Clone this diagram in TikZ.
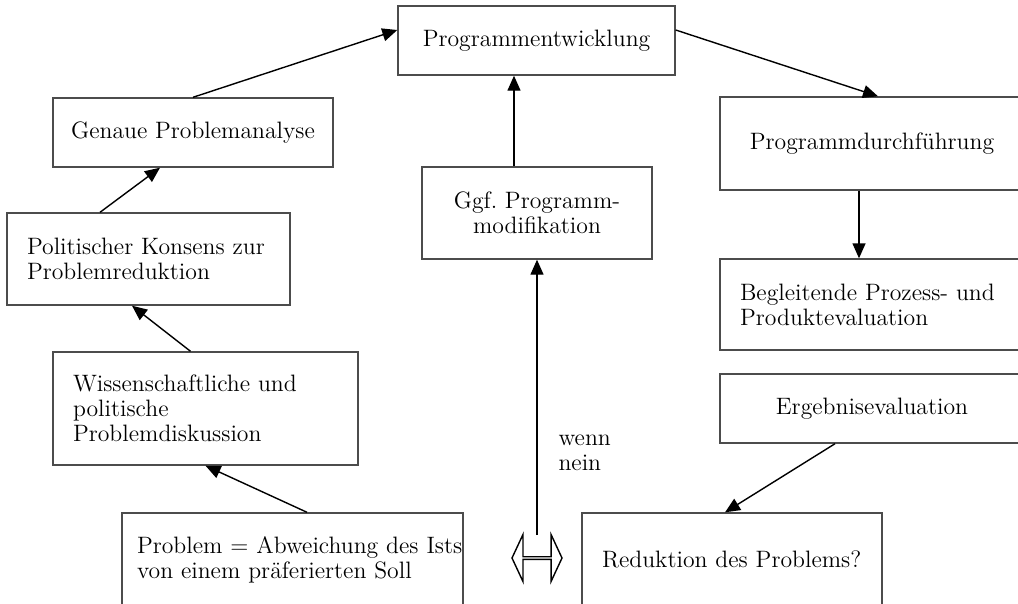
\documentclass[tikz,border=0pt]{standalone}
\usepackage{tikz}
\usetikzlibrary{arrows.meta, positioning, shapes.arrows}
\frenchspacing

\begin{document}
\begin{tikzpicture}[
  font=\fontsize{13.5}{14.2}\selectfont,
  box/.style={draw=black!70, line width=0.8pt, align=center, inner sep=0pt},
  lbox/.style={box, align=left, inner xsep=0.4cm},
  arrow/.style={-{Triangle[length=0.3cm, width=0.26cm]}, line width=0.8pt},
]
  \clip (0,0) rectangle (20.36,-12.06);

  % left column
  \node[lbox, inner xsep=0.3cm, text width=6.22cm, minimum height=1.86cm] (problem) at (5.85,-11.19)
    {\mbox{Problem = Abweichung des Ists}\\von einem präferierten Soll};
  \node[lbox, text width=5.3cm, minimum height=2.26cm] (wiss) at (4.11,-8.17)
    {Wissenschaftliche und\\politische\\Problemdiskussion};
  \node[lbox, text width=4.86cm, minimum height=1.84cm] (konsens) at (2.97,-5.18)
    {Politischer Konsens zur\\Problemreduktion};
  \node[box, minimum width=5.6cm, minimum height=1.38cm] (analyse) at (3.86,-2.65)
    {Genaue Problemanalyse};

  % middle
  \node[box, minimum width=5.54cm, minimum height=1.38cm] (entw) at (10.73,-0.81)
    {Programmentwicklung};
  \node[box, minimum width=4.6cm, minimum height=1.84cm] (modif) at (10.74,-4.26)
    {Ggf. Programm-\\modifikation};
  \node[double arrow, draw, line width=0.8pt, inner sep=0pt, minimum height=1.0cm,
        minimum width=0.94cm, double arrow head extend=0.24cm,
        double arrow tip angle=130] (dbl) at (10.74,-11.16) {};
  \coordinate (dtop) at (10.74,-10.7);

  % right column
  \node[box, minimum width=6.08cm, minimum height=1.86cm] (durchf) at (17.44,-2.87)
    {Programmdurchführung};
  \node[lbox, text width=5.28cm, minimum height=1.82cm] (begl) at (17.44,-6.09)
    {Begleitende Prozess- und\\Produktevaluation};
  \node[box, minimum width=6.08cm, minimum height=1.38cm] (ergeb) at (17.44,-8.17)
    {Ergebnisevaluation};
  \node[lbox, text width=5.2cm, minimum height=1.86cm] (reduk) at (14.64,-11.19)
    {Reduktion des Problems?};

  \draw[arrow] ([xshift=0.29cm]problem.north) -- (wiss.south);
  \draw[arrow] ([xshift=-0.3cm]wiss.north) -- ([xshift=-0.33cm]konsens.south);
  \draw[arrow] ([xshift=-0.97cm]konsens.north) -- ([xshift=-0.66cm]analyse.south);
  \draw[arrow] (analyse.north) -- ([yshift=0.21cm]entw.west);
  \draw[arrow] ([yshift=0.21cm]entw.east) -- ([xshift=0.12cm]durchf.north);
  \draw[arrow] ([xshift=-0.26cm]durchf.south) -- ([xshift=-0.26cm]begl.north);
  \draw[arrow] ([xshift=-0.74cm]ergeb.south) -- ([xshift=-0.14cm]reduk.north);
  \draw[arrow] ([xshift=-0.46cm]modif.north) -- ([xshift=-0.46cm]modif.north |- entw.south);
  \draw[arrow] (dtop) -- node[pos=0.3, right=0.3cm, align=left] (cond) {wenn\\nein} (dtop |- modif.south);
\end{tikzpicture}
\end{document}
